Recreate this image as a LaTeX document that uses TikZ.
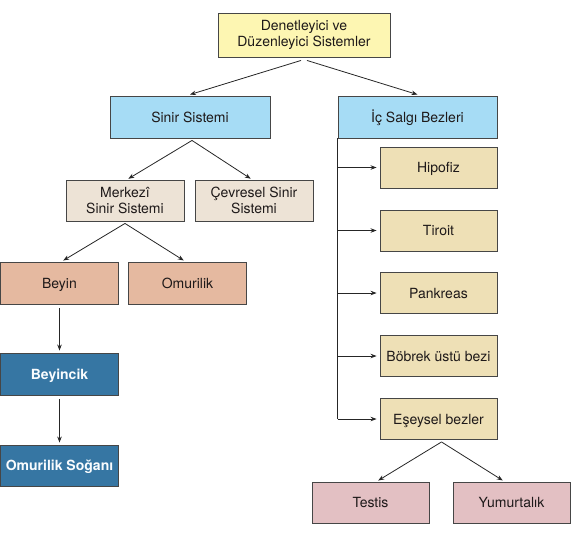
\documentclass[tikz,border=0pt]{standalone}
\usepackage{fontspec}
\setmainfont{TeX Gyre Heros}
\usetikzlibrary{arrows.meta}
\definecolor{cTop}{RGB}{253,246,178}
\definecolor{cBlue}{RGB}{166,220,245}
\definecolor{cBeige}{RGB}{237,227,214}
\definecolor{cSalmon}{RGB}{229,185,160}
\definecolor{cDark}{RGB}{54,118,163}
\definecolor{cTan}{RGB}{238,224,182}
\definecolor{cPink}{RGB}{227,192,195}
\definecolor{cLine}{RGB}{70,70,70}
\definecolor{cText}{RGB}{30,25,25}
\tikzset{
  box/.style={draw=cLine, line width=0.9pt, rectangle, inner sep=0pt, align=center,
    font=\fontsize{14}{16.5}\selectfont, text=cText, minimum width=118pt, minimum height=41pt},
  oneline/.style={text height=10pt, text depth=0pt},
  arr/.style={-{Stealth[length=6pt,width=4.5pt]}, line width=0.8pt, draw=black!85},
  trunk/.style={line width=0.8pt, draw=black!85}
}
\begin{document}
\begin{tikzpicture}[x=1pt,y=-1pt]
\useasboundingbox (0,0) rectangle (580,539);
\node[box, fill=cTop, minimum width=172pt, minimum height=44pt] (top) at (304,35) {Denetleyici ve\\Düzenleyici Sistemler};
\node[box, oneline, fill=cBlue, minimum width=160pt, minimum height=42pt] (sinir) at (190,117) {Sinir Sistemi};
\node[box, oneline, fill=cBlue, minimum width=159pt, minimum height=42pt] (ic) at (417.5,117) {İç Salgı Bezleri};
\node[box, fill=cBeige] (merk) at (125,200.5) {Merkezî\\Sinir Sistemi};
\node[box, fill=cBeige] (cevre) at (254,200.5) {Çevresel Sinir\\Sistemi};
\node[box, oneline, fill=cSalmon, minimum height=42pt] (beyin) at (59.5,283) {Beyin};
\node[box, oneline, fill=cSalmon, minimum height=42pt] (omur) at (187.5,283) {Omurilik};
\node[box, oneline, fill=cDark, text=white!93!cBlue, minimum height=42pt] (beyincik) at (59.5,374) {\bfseries Beyincik};
\node[box, oneline, fill=cDark, text=white!93!cBlue] (sogan) at (59.5,465.5) {\bfseries Omurilik Soğanı};
\node[box, oneline, fill=cTan, minimum width=117pt] (hip) at (438.5,167.5) {Hipofiz};
\node[box, oneline, fill=cTan, minimum width=117pt] (tir) at (438.5,230.5) {Tiroit};
\node[box, oneline, fill=cTan, minimum width=117pt] (pank) at (438.5,293) {Pankreas};
\node[box, oneline, fill=cTan, minimum width=117pt] (bob) at (438.5,356) {Böbrek üstü bezi};
\node[box, oneline, fill=cTan, minimum width=117pt] (es) at (438.5,419) {Eşeysel bezler};
\node[box, oneline, fill=cPink, minimum width=117pt] (testis) at (370.5,502.5) {Testis};
\node[box, oneline, fill=cPink, minimum width=117pt] (yum) at (511.5,502.5) {Yumurtalık};
% top level
\draw[arr] ([xshift=-3pt,yshift=-3pt]top.south) -- ([yshift=1pt]sinir.north);
\draw[arr] ([xshift=3pt,yshift=-3pt]top.south) -- ([yshift=1pt]ic.north);
% sinir
\draw[arr, shorten >=1.5pt] ([xshift=2pt,yshift=-2pt]sinir.south) -- ([xshift=2pt]merk.north);
\draw[arr, shorten >=1.5pt] ([xshift=2pt,yshift=-2pt]sinir.south) -- ([xshift=-2pt]cevre.north);
% merkezi
\draw[arr, shorten >=2pt] ([yshift=-2pt]merk.south) -- ([xshift=2pt]beyin.north);
\draw[arr, shorten >=2pt] ([yshift=-2pt]merk.south) -- ([xshift=-2pt]omur.north);
% beyin chain
\draw[arr, shorten >=2pt] ([yshift=-4pt]beyin.south) -- (beyincik.north);
\draw[arr, shorten >=2pt] ([yshift=-4pt]beyincik.south) -- (sogan.north);
% ic salgi
\coordinate (tb) at (ic.south west);
\draw[trunk] (tb) -- (tb |- es.west);
\draw[arr, shorten >=3pt] (tb |- hip.west) -- (hip.west);
\draw[arr, shorten >=3pt] (tb |- tir.west) -- (tir.west);
\draw[arr, shorten >=3pt] (tb |- pank.west) -- (pank.west);
\draw[arr, shorten >=3pt] (tb |- bob.west) -- (bob.west);
\draw[arr, shorten >=3pt] (tb |- es.west) -- (es.west);
% esey
\draw[arr, shorten >=2pt] ([xshift=3pt,yshift=-2pt]es.south) -- ([xshift=6pt]testis.north);
\draw[arr, shorten >=2pt] ([xshift=3pt,yshift=-2pt]es.south) -- ([xshift=-7pt]yum.north);
\end{tikzpicture}
\end{document}
